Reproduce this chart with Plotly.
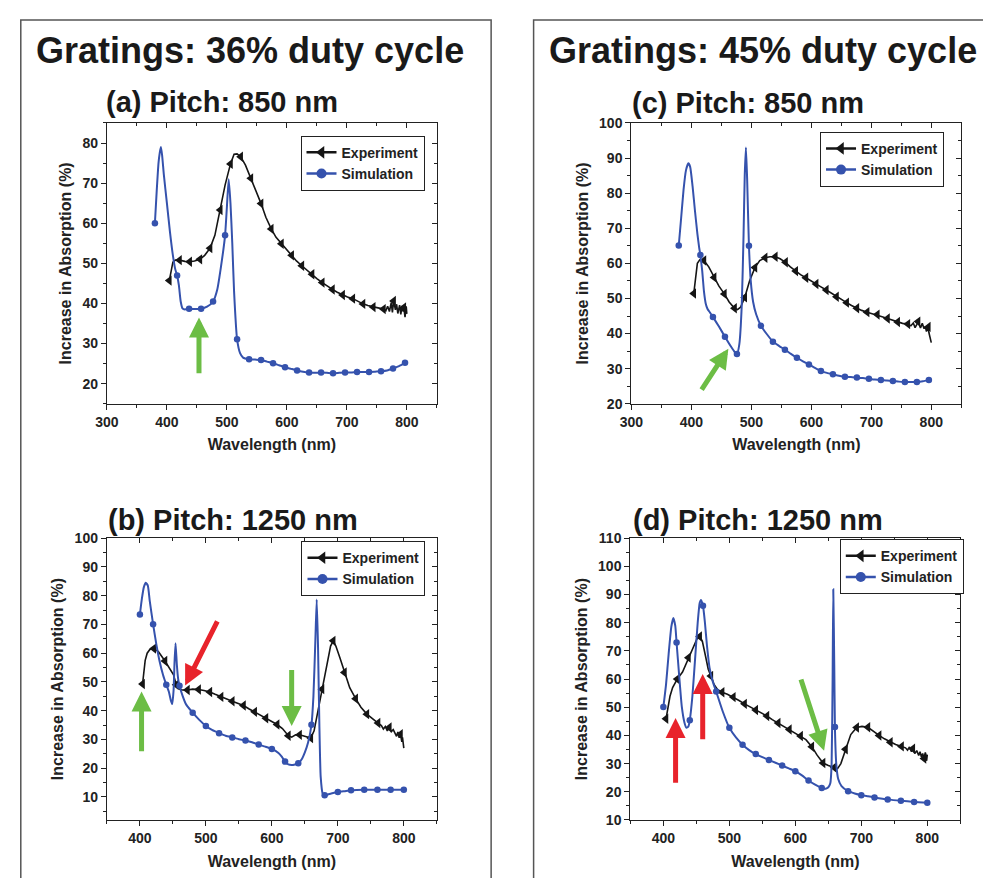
import plotly.graph_objects as go

# ---- data ----
# panel (a): 36% duty cycle, pitch 850 nm
a_exp_x = [404, 407, 410, 414, 421, 430, 438, 446, 455, 463, 472, 480, 489, 497, 506, 512, 517, 523, 531, 540,
           548, 557, 565, 574, 582, 591, 599, 608, 616, 625, 633, 642, 650, 659, 667, 676, 684, 693, 701, 710,
           718, 727, 735, 744, 752, 761, 765, 768, 771, 774, 776, 778, 781, 783, 785, 788, 790, 792, 794, 795,
           797, 799, 800]
a_exp_y = [45.7, 48.5, 50.3, 50.8, 50.8, 50.5, 50.4, 50.6, 51.0, 52, 53.8, 57, 63.3, 69.5, 74.8, 77.2, 77.3, 76.6, 74.5, 71.2,
           68, 64.9, 61.5, 58.6, 56.5, 54.9, 53.4, 52.0, 50.6, 49.4, 48.3, 47.3, 46.2, 45.2, 44.3, 43.5, 42.8, 42.1, 41.6, 41.2,
           40.5, 39.9, 39.5, 39.1, 38.9, 38.6, 38.2, 39.3, 38.0, 40.2, 37.8, 40.6, 38.4, 39.8, 37.5, 39.6, 37.3, 39.4, 38.0, 39.0,
           36.6, 39.3, 37.4]
a_sim_x = [380, 383, 386, 388, 390, 392, 395, 400, 405, 410, 414, 417, 420, 423, 426, 430, 437, 447, 457, 467,
           477, 484, 490, 497, 500, 503, 506, 509, 512, 517, 522, 527, 537, 547, 557, 567, 577, 587, 597, 607,
           617, 627, 637, 647, 657, 667, 677, 687, 697, 707, 717, 727, 737, 747, 757, 767, 777, 787, 797]
a_sim_y = [60, 68, 75, 77.5, 79, 77, 72, 65, 58, 52, 48.5, 47, 44.5, 40.5, 38.8, 38.5, 38.7, 38.6, 38.7, 39.2,
           40.5, 43.5, 49, 57, 64, 71, 65, 55, 43, 31.1, 27.6, 26.5, 26.1, 26, 25.9, 25.5, 25.1, 24.6, 24.1, 23.7,
           23.3, 23, 22.8, 22.7, 22.8, 22.7, 22.6, 22.7, 22.8, 22.8, 22.9, 22.9, 22.9, 23, 23.1, 23.3, 23.8, 24.4, 25.2]
a_sim_marks = [380, 417, 437, 457, 477, 497, 517, 537, 557, 577, 597, 617, 637, 657, 677, 697, 717, 737, 757, 777, 797]

# panel (c): 45% duty cycle, pitch 850 nm
c_exp_x = [404, 407, 410, 414, 421, 429, 438, 446, 455, 463, 472, 477, 482, 489, 497, 506, 514, 523, 531, 540,
           548, 557, 565, 574, 582, 591, 599, 608, 616, 625, 633, 642, 650, 659, 667, 676, 684, 693, 701, 710,
           718, 727, 735, 744, 752, 761, 766, 770, 773, 776, 778, 782, 785, 788, 790, 792, 795, 796, 798, 800]
c_exp_y = [51.4, 56, 60, 61, 60.8, 59, 56, 53.5, 51.3, 49, 47.2, 46.8, 47.5, 50.3, 55, 58.8, 60.8, 61.6, 61.9, 61.9,
           61.3, 60.3, 59, 57.8, 56.8, 55.9, 55, 54.1, 53.3, 52.4, 51.5, 50.5, 49.6, 48.8, 48, 47.2, 46.6, 46.1, 45.7, 45.4,
           44.8, 44.3, 43.8, 43.3, 42.9, 42.7, 42.2, 43.0, 41.7, 42.6, 43.4, 41.6, 42.9, 41.4, 42.0, 40.6, 41.9, 40.3, 38.8, 37.4]
c_sim_x = [379, 383, 387, 391, 395, 398, 402, 406, 410, 413, 415, 418, 421, 424, 427, 431, 436, 446, 456, 466,
           472, 476, 480, 484, 487, 489, 491, 493, 496, 499, 503, 508, 516, 526, 536, 546, 556, 566, 576, 586,
           596, 606, 616, 626, 636, 646, 656, 666, 676, 686, 696, 706, 716, 726, 736, 746, 756, 766, 776, 786, 796]
c_sim_y = [65.1, 73, 81, 86.5, 88.5, 87.5, 82, 75, 68.5, 64.5, 62.4, 58, 52, 48.5, 47, 46, 44.7, 42, 39.1, 36.3,
           34.8, 34.2, 37, 48, 68, 85, 93, 84, 65, 55, 49, 45.5, 42.2, 39.8, 37.7, 36.5, 35.4, 34.2, 33.1, 32.1,
           31.2, 30.2, 29.3, 28.8, 28.4, 28, 27.7, 27.6, 27.5, 27.3, 27.1, 26.9, 26.8, 26.6, 26.5, 26.3, 26.2, 26.2, 26.2, 26.4, 26.8]
c_sim_marks = [379, 415, 436, 456, 476, 496, 516, 536, 556, 576, 596, 616, 636, 656, 676, 696, 716, 736, 756, 776, 796]

# panel (b): 36% duty cycle, pitch 1250 nm
b_exp_x = [404, 406, 408, 411, 415, 421, 428, 438, 446, 451, 455, 459, 464, 472, 480, 489, 497, 506, 514, 523,
           531, 540, 548, 557, 565, 574, 582, 591, 599, 608, 616, 625, 630, 636, 642, 648, 653, 659, 664, 669,
           676, 684, 689, 693, 697, 703, 710, 718, 727, 735, 744, 752, 761, 766, 769, 772, 775, 778, 781, 784,
           787, 789, 791, 793, 795, 797, 798, 800]
b_exp_y = [49.3, 53, 57.5, 60, 61.3, 61.6, 60.6, 57.3, 54.5, 52.5, 49, 47.6, 47.2, 47.2, 47.5, 47.4, 47.0, 46.5, 45.7, 44.8,
           44, 43.3, 42.6, 41.8, 40.7, 39.6, 38.5, 37.4, 36.4, 35.2, 33.8, 31.3, 30.8, 31.6, 31.6, 31.2, 30.8, 30.5, 33, 39,
           47.5, 57, 62.5, 64.3, 62.5, 58.5, 53.3, 48, 44.2, 41.2, 38.8, 37.2, 35.7, 34.8, 33.6, 34.5, 33.0, 34.2, 32.7, 33.4,
           32.0, 31.1, 32.6, 30.6, 31.8, 29.2, 30.7, 27.0]
b_sim_x = [400, 403, 406, 409, 412, 415, 420, 425, 430, 435, 440, 444, 447, 449, 451, 452.5, 454, 456, 458, 460,
           465, 470, 480, 490, 500, 510, 520, 530, 540, 550, 560, 570, 580, 590, 600, 610, 615, 620, 625, 630,
           635, 640, 645, 650, 655, 660, 663, 666, 668, 670, 672, 674, 677, 680, 690, 700, 710, 720, 740, 760, 780, 800]
b_sim_y = [73.5, 79, 83, 84.5, 83.5, 78, 70.1, 63, 57, 52.5, 49, 46.5, 43.5, 42.3, 47, 57, 63.5, 56, 51, 48.7,
           45, 42.2, 39.3, 36.8, 34.7, 33.2, 32.2, 31.3, 30.7, 30.1, 29.6, 29, 28.2, 27.5, 26.7, 25.3, 24, 22.3, 21.3, 21.1,
           21.3, 21.7, 23, 25.5, 29, 35.1, 45, 65, 78.7, 62, 35, 17, 11.2, 10.6, 11.2, 11.7, 12.0, 12.3, 12.5, 12.5, 12.5, 12.5]
b_sim_marks = [400, 420, 440, 460, 480, 500, 520, 540, 560, 580, 600, 620, 640, 660, 680, 700, 720, 740, 760, 780, 800]

# panel (d): 45% duty cycle, pitch 1250 nm
d_exp_x = [404, 407, 410, 414, 421, 429, 438, 446, 451, 455, 459, 464, 468, 472, 477, 482, 489, 497, 506, 514,
           523, 531, 540, 548, 557, 565, 574, 582, 591, 599, 608, 616, 625, 633, 642, 650, 659, 664, 669, 676,
           684, 693, 701, 710, 718, 727, 735, 744, 752, 761, 767, 770, 773, 776, 778, 781, 784, 787, 789, 791,
           793, 795, 797, 799, 800]
d_exp_y = [45.9, 50.5, 53.9, 57, 60, 62.5, 67.6, 71.5, 74.3, 75.1, 73.5, 68, 63.5, 61.1, 58, 56.3, 55.3, 54.6, 53.6, 52.5,
           51.2, 50.2, 49, 48, 46.9, 45.6, 44.4, 43.2, 42.1, 41, 39.8, 38.5, 36, 33, 30.2, 29.3, 28.6, 28.2, 30, 35.1,
           40.3, 42.8, 43.2, 42.9, 41.4, 40, 38.8, 37.6, 36.8, 36.1, 35.6, 34.8, 35.9, 34.2, 35.3, 33.6, 34.6, 32.9, 34.2, 32.4,
           33.6, 31.8, 34.0, 31.0, 33.2]
d_sim_x = [400, 404, 408, 412, 415, 418, 420, 424, 428, 432, 435, 438, 440, 444, 448, 452, 455, 457, 460, 463,
           466, 470, 475, 480, 490, 500, 510, 520, 530, 540, 550, 560, 570, 580, 590, 600, 610, 620, 630, 640,
           646, 650, 653, 655, 656.5, 657.5, 659, 660, 662, 665, 670, 680, 690, 700, 710, 720, 740, 760, 780, 800]
d_sim_y = [50.1, 58, 69, 78.5, 81.7, 79, 73, 61, 50, 44.5, 42.7, 43.2, 45.4, 54, 67, 80, 87, 88.1, 86, 80,
           72, 64, 59, 55.6, 48.5, 42.7, 39.3, 36.7, 34.8, 33.4, 32.3, 31.3, 30.3, 29.3, 28.3, 27.3, 25.8, 24, 22.5, 21.3,
           21.1, 21.6, 23, 30, 60, 91.9, 65, 43, 30, 24.5, 22, 20.2, 19.4, 18.8, 18.4, 18.0, 17.3, 16.8, 16.4, 16.1]
d_sim_marks = b_sim_marks

# wavelengths where the experiment curves carry a marker
exp_marks = [404, 421, 438, 455, 472, 489, 506, 523, 540, 557, 574, 591, 608, 625, 642, 659, 676, 693, 710, 727,
             744, 761, 778, 795]

FONT = "Liberation Sans, Arial, sans-serif"
BLACK = "#151515"
BLUE = "#3552ad"
GREEN = "#6cbd45"
RED = "#e8232b"
# the page keeps its default 8px body margin, so the figure is 16px smaller than the window
PAGE_MARGIN = 8
W, H = 991 - 2 * PAGE_MARGIN, 886 - 2 * PAGE_MARGIN

fig = go.Figure()


def ax_name(kind, n):
    return kind if n == 1 else f"{kind}{n}"


def pick(xs, ys, marks):
    return [ys[xs.index(m)] for m in marks]


def px_x(p):
    # window pixel -> paper fraction
    return (p - PAGE_MARGIN) / W


def px_y(p):
    return 1 - (p - PAGE_MARGIN) / H


def add_panel(n, exp_x, exp_y, sim_x, sim_y, sim_marks, legend):
    xa, ya = ax_name("x", n), ax_name("y", n)
    common = dict(xaxis=xa, yaxis=ya, hoverinfo="skip")
    fig.add_trace(go.Scatter(x=exp_x, y=exp_y, mode="lines", showlegend=False,
                             line=dict(color=BLACK, width=1.6), **common))
    fig.add_trace(go.Scatter(x=exp_marks, y=pick(exp_x, exp_y, exp_marks), mode="markers",
                             showlegend=False,
                             marker=dict(symbol="triangle-left", size=9, color=BLACK), **common))
    fig.add_trace(go.Scatter(x=sim_x, y=sim_y, mode="lines", showlegend=False,
                             line=dict(color=BLUE, width=2, shape="spline", smoothing=0.5), **common))
    fig.add_trace(go.Scatter(x=sim_marks, y=pick(sim_x, sim_y, sim_marks), mode="markers",
                             showlegend=False, marker=dict(symbol="circle", size=6.5, color=BLUE), **common))
    # legend-only entries
    fig.add_trace(go.Scatter(x=[None], y=[None], mode="lines+markers", name="Experiment", legend=legend,
                             line=dict(color=BLACK, width=2.5),
                             marker=dict(symbol="triangle-left", size=11, color=BLACK), **common))
    fig.add_trace(go.Scatter(x=[None], y=[None], mode="lines+markers", name="Simulation", legend=legend,
                             line=dict(color=BLUE, width=2.5),
                             marker=dict(symbol="circle", size=10, color=BLUE), **common))
    # empty trace so the mirrored (top/right) tick axes get drawn
    fig.add_trace(go.Scatter(x=[], y=[], xaxis=f"x{n + 4}", yaxis=f"y{n + 4}", showlegend=False,
                             hoverinfo="skip"))


def style_panel(n, xdom, ydom, xrange, yrange):
    tickfont = dict(family=FONT, size=14, color="#222", weight="bold")
    titlefont = dict(family=FONT, size=16, color="#222", weight="bold")
    xa, ya = ax_name("x", n), ax_name("y", n)
    fig.layout[ax_name("xaxis", n)] = dict(
        domain=xdom, range=xrange, anchor=ya, dtick=100, tick0=0, ticks="outside", ticklen=5,
        tickwidth=1.3, tickcolor="#222", showline=True, linecolor="#222", linewidth=1.3, mirror=True,
        showgrid=False, zeroline=False, tickfont=tickfont,
        minor=dict(dtick=50, ticks="outside", ticklen=3, tickcolor="#222", showgrid=False),
        title=dict(text="Wavelength (nm)", font=titlefont, standoff=10))
    fig.layout[ax_name("yaxis", n)] = dict(
        domain=ydom, range=yrange, anchor=xa, dtick=10, tick0=0, ticks="outside", ticklen=5,
        tickwidth=1.3, tickcolor="#222", showline=True, linecolor="#222", linewidth=1.3, mirror=True,
        showgrid=False, zeroline=False, tickfont=tickfont,
        minor=dict(dtick=5, ticks="outside", ticklen=3, tickcolor="#222", showgrid=False),
        title=dict(text="Increase in Absorption (%)", font=titlefont, standoff=6))
    fig.layout[f"xaxis{n + 4}"] = dict(
        overlaying=xa, anchor=f"y{n + 4}", side="top", range=xrange, dtick=100, tick0=0,
        ticks="inside", ticklen=5, tickwidth=1.3, tickcolor="#222", showticklabels=False,
        showgrid=False, zeroline=False, showline=False,
        minor=dict(dtick=50, ticks="inside", ticklen=3, tickcolor="#222", showgrid=False))
    fig.layout[f"yaxis{n + 4}"] = dict(
        overlaying=ya, anchor=f"x{n + 4}", side="right", range=yrange, dtick=10, tick0=0,
        ticks="inside", ticklen=5, tickwidth=1.3, tickcolor="#222", showticklabels=False,
        showgrid=False, zeroline=False, showline=False,
        minor=dict(dtick=5, ticks="inside", ticklen=3, tickcolor="#222", showgrid=False))


top_dom = [px_y(403), px_y(117)]
bot_dom = [px_y(827), px_y(540)]

add_panel(1, a_exp_x, a_exp_y, a_sim_x, a_sim_y, a_sim_marks, "legend")
add_panel(2, c_exp_x, c_exp_y, c_sim_x, c_sim_y, c_sim_marks, "legend2")
add_panel(3, b_exp_x, b_exp_y, b_sim_x, b_sim_y, b_sim_marks, "legend3")
add_panel(4, d_exp_x, d_exp_y, d_sim_x, d_sim_y, d_sim_marks, "legend4")

style_panel(1, [px_x(96), px_x(430)], top_dom, [300, 850], [15, 85])
style_panel(2, [px_x(627), px_x(961)], top_dom, [300, 850], [20, 100])
style_panel(3, [px_x(96), px_x(430)], bot_dom, [350, 850], [2, 100])
style_panel(4, [px_x(626), px_x(960)], bot_dom, [350, 850], [10, 110])

legend_style = dict(xanchor="left", yanchor="middle", bgcolor="white", bordercolor="#222", borderwidth=1,
                    font=dict(family=FONT, size=14, color="#222", weight="bold"),
                    tracegroupgap=0, itemwidth=30)
fig.update_layout(
    legend=dict(x=px_x(292), y=px_y(158), **legend_style),
    legend2=dict(x=px_x(818), y=px_y(154), **legend_style),
    legend3=dict(x=px_x(293), y=px_y(571), **legend_style),
    legend4=dict(x=px_x(838), y=px_y(569), **legend_style),
)

# titles
titles = [
    ("Gratings: 36% duty cycle", 241, 43, 36),
    ("Gratings: 45% duty cycle", 760, 43, 36),
    ("(a) Pitch: 850 nm", 213, 96, 29),
    ("(c) Pitch: 850 nm", 745, 97, 29),
    ("(b) Pitch: 1250 nm", 224, 521, 29),
    ("(d) Pitch: 1250 nm", 755, 521, 29),
]
for text, x, y, size in titles:
    fig.add_annotation(text=text, x=px_x(x), y=px_y(y), xref="paper", yref="paper",
                       xanchor="center", yanchor="middle", showarrow=False,
                       font=dict(family=FONT, size=size, color="#1a1a1a", weight="bold"))

# arrows: (panel, tip x, tip y, tail x, tail y, colour)
arrows = [
    (1, 453.5, 36.5, 453.5, 22.2, GREEN),
    (2, 461.7, 35.7, 415.5, 23.6, GREEN),
    (3, 402.5, 46.7, 402.5, 25.4, GREEN),
    (3, 468.5, 48.8, 518.5, 71.6, RED),
    (3, 630, 34.7, 630, 54.7, GREEN),
    (4, 418.5, 46.2, 418.5, 22.7, RED),
    (4, 459.6, 61.8, 459.6, 38.1, RED),
    (4, 643.6, 34.6, 607.8, 60.4, GREEN),
]
for n, x, y, ax, ay, color in arrows:
    xa, ya = ax_name("x", n), ax_name("y", n)
    fig.add_annotation(x=x, y=y, ax=ax, ay=ay, xref=xa, yref=ya, axref=xa, ayref=ya, text="",
                       showarrow=True, arrowhead=2, arrowsize=0.8, arrowwidth=5, arrowcolor=color)

# panel frames
frame = dict(type="rect", xref="paper", yref="paper", line=dict(color="#555", width=1.5),
             fillcolor="rgba(0,0,0,0)")
fig.add_shape(x0=px_x(8.8), x1=px_x(485), y0=-0.05, y1=px_y(12), **frame)
fig.add_shape(x0=px_x(528), x1=1.05, y0=-0.05, y1=px_y(12), **frame)

fig.update_layout(width=W, height=H, margin=dict(l=0, r=0, t=0, b=0),
                  paper_bgcolor="white", plot_bgcolor="white",
                  font=dict(family=FONT, color="#222"))

fig.write_html("out.html")
